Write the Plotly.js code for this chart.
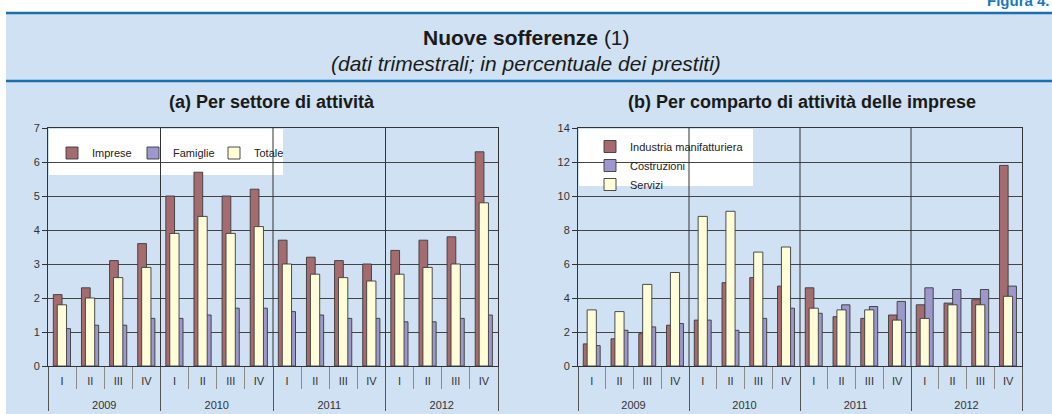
<!DOCTYPE html>
<html>
<head>
<meta charset="utf-8">
<script src="https://cdn.plot.ly/plotly-3.0.1.min.js"></script>
<style>
  body { margin: 0; padding: 0; background: #fff; }
  #chart { width: 1052px; height: 414px; }
</style>
</head>
<body>
<div id="chart"></div>
<script>
  // categories
  const YEARS = ['2009', '2010', '2011', '2012'];
  const QUARTERS = ['I', 'II', 'III', 'IV'];

  // (a) per settore di attività
  const imprese  = [2.1, 2.3, 3.1, 3.6, 5.0, 5.7, 5.0, 5.2, 3.7, 3.2, 3.1, 3.0, 3.4, 3.7, 3.8, 6.3];
  const famiglie = [1.1, 1.2, 1.2, 1.4, 1.4, 1.5, 1.7, 1.7, 1.6, 1.5, 1.4, 1.4, 1.3, 1.3, 1.4, 1.5];
  const totale   = [1.8, 2.0, 2.6, 2.9, 3.9, 4.4, 3.9, 4.1, 3.0, 2.7, 2.6, 2.5, 2.7, 2.9, 3.0, 4.8];

  // (b) per comparto di attività delle imprese
  const industria   = [1.3, 1.6, 1.9, 2.4, 2.7, 4.9, 5.2, 4.7, 4.6, 2.9, 2.8, 3.0, 3.6, 3.7, 3.9, 11.8];
  const costruzioni = [1.2, 2.1, 2.3, 2.5, 2.7, 2.1, 2.8, 3.4, 3.1, 3.6, 3.5, 3.8, 4.6, 4.5, 4.5, 4.7];
  const servizi     = [3.3, 3.2, 4.8, 5.5, 8.8, 9.1, 6.7, 7.0, 3.4, 3.3, 3.3, 2.7, 2.8, 3.6, 3.6, 4.1];

  const MAROON = '#a56c70';
  const PURPLE = '#9c98cc';
  const CREAM = '#fffcd8';
  const BG = '#cfe1f2';
  const BLUE = '#1a6faf';

  // the year row sits one line below the quarter row
  let yearCat = [], quarterCat = [];
  YEARS.forEach(function (y) {
    QUARTERS.forEach(function (q) {
      yearCat.push('<br>' + y);
      quarterCat.push(q);
    });
  });
  const X = [yearCat, quarterCat];

  function bar(name, y, color, offset, width, xa, ya, legend) {
    return {
      type: 'bar', name: name, x: X, y: y,
      xaxis: xa, yaxis: ya, legend: legend,
      offset: offset, width: width,
      marker: { color: color, line: { color: '#3a3a3a', width: 0.9 } },
      hoverinfo: 'skip'
    };
  }

  const data = [
    bar('Imprese', imprese, MAROON, -0.31, 0.31, 'x', 'y', 'legend'),
    bar('Famiglie', famiglie, PURPLE, 0, 0.3, 'x', 'y', 'legend'),
    bar('Totale', totale, CREAM, -0.17, 0.33, 'x', 'y', 'legend'),
    bar('Industria manifatturiera', industria, MAROON, -0.31, 0.31, 'x2', 'y3', 'legend2'),
    bar('Costruzioni', costruzioni, PURPLE, 0, 0.3, 'x2', 'y3', 'legend2'),
    bar('Servizi', servizi, CREAM, -0.17, 0.33, 'x2', 'y3', 'legend2')
  ];

  const W = 1052, H = 414;
  function px(v) { return v / W; }
  function py(v) { return 1 - v / H; }

  const yDomain = [py(366), py(128)];
  const tickFont = { family: 'Liberation Sans, Arial, sans-serif', size: 11, color: '#333' };

  function xAxis(domain, anchor) {
    return {
      type: 'multicategory', domain: domain, anchor: anchor,
      showgrid: false, showline: true, linecolor: '#333', linewidth: 1, mirror: true,
      ticks: 'outside', tickson: 'boundaries', ticklen: 22, tickcolor: '#8a8a8a',
      ticklabelstandoff: 5,
      showdividers: true, dividercolor: '#555', dividerwidth: 1,
      tickfont: tickFont
    };
  }
  function yAxis(range, dtick, anchor) {
    return {
      range: range, dtick: dtick, domain: yDomain, anchor: anchor,
      showgrid: true, gridcolor: '#444', gridwidth: 1, zeroline: false,
      showline: true, linecolor: '#333', mirror: true,
      ticks: 'outside', ticklen: 5, tickcolor: '#333',
      tickfont: tickFont, fixedrange: true
    };
  }
  function yRight(range, dtick, over, anchor) {
    return {
      range: range, dtick: dtick, overlaying: over, side: 'right', anchor: anchor,
      showgrid: false, zeroline: false, showline: false,
      ticks: 'outside', ticklen: 5, tickcolor: '#333', tickfont: tickFont,
      ticklabelstandoff: 3
    };
  }

  // blue background
  let shapes = [
    { type: 'rect', xref: 'paper', yref: 'paper', x0: px(6), x1: 1, y0: 0, y1: py(14),
      fillcolor: BG, line: { width: 0 }, layer: 'below' }
  ];
  // vertical separators between years inside the plots
  [['x', 'y', 7], ['x2', 'y3', 14]].forEach(function (p) {
    [3.5, 7.5, 11.5].forEach(function (b) {
      shapes.push({ type: 'line', xref: p[0], yref: p[1], x0: b, x1: b, y0: 0, y1: p[2],
        line: { color: '#333', width: 1 }, layer: 'between' });
    });
  });
  // white legend boxes hiding the grid
  shapes.push({ type: 'rect', xref: 'paper', yref: 'paper', x0: px(49), x1: px(283), y0: py(175), y1: py(129),
    fillcolor: '#fff', line: { width: 0 }, layer: 'between' });
  shapes.push({ type: 'rect', xref: 'paper', yref: 'paper', x0: px(579), x1: px(753), y0: py(186), y1: py(129),
    fillcolor: '#fff', line: { width: 0 }, layer: 'between' });
  // blue rules
  shapes.push({ type: 'line', xref: 'paper', yref: 'paper', x0: px(6), x1: 1, y0: py(13), y1: py(13),
    line: { color: BLUE, width: 2.5 } });
  shapes.push({ type: 'line', xref: 'paper', yref: 'paper', x0: px(6), x1: 1, y0: py(81), y1: py(81),
    line: { color: BLUE, width: 2.5 } });

  const font = 'Liberation Sans, Arial, sans-serif';
  const annotations = [
    { text: '<b>Figura 4.</b>', xref: 'paper', yref: 'paper', x: 1, y: py(11), xanchor: 'right', yanchor: 'bottom',
      showarrow: false, font: { family: font, size: 15, color: '#1a78c0' } },
    { text: '<b>Nuove sofferenze</b> (1)', xref: 'paper', yref: 'paper', x: 0.5, y: py(38),
      xanchor: 'center', yanchor: 'middle', showarrow: false,
      font: { family: font, size: 21, color: '#1a1a1a' } },
    { text: '<i>(dati trimestrali; in percentuale dei prestiti)</i>', xref: 'paper', yref: 'paper', x: 0.5, y: py(63),
      xanchor: 'center', yanchor: 'middle', showarrow: false,
      font: { family: font, size: 21, color: '#1a1a1a' } },
    { text: '<b>(a) Per settore di attività</b>', xref: 'paper', yref: 'paper', x: px(272), y: py(102),
      xanchor: 'center', yanchor: 'middle', showarrow: false,
      font: { family: font, size: 18, color: '#1a1a1a' } },
    { text: '<b>(b) Per comparto di attività delle imprese</b>', xref: 'paper', yref: 'paper', x: px(802), y: py(102),
      xanchor: 'center', yanchor: 'middle', showarrow: false,
      font: { family: font, size: 18, color: '#1a1a1a' } }
  ];

  const legendFont = { family: font, size: 11, color: '#222' };
  const layout = {
    width: W, height: H,
    margin: { l: 0, r: 0, t: 0, b: 0 },
    paper_bgcolor: '#fff', plot_bgcolor: '#fff',
    barmode: 'overlay',
    showlegend: true,
    xaxis: xAxis([px(48), px(498)], 'y'),
    yaxis: yAxis([0, 7], 1, 'x'),
    yaxis2: yRight([0, 7], 1, 'y', 'x'),
    xaxis2: xAxis([px(578), px(1022)], 'y3'),
    yaxis3: yAxis([0, 14], 2, 'x2'),
    yaxis4: yRight([0, 14], 2, 'y3', 'x2'),
    legend: {
      orientation: 'h', x: px(52), y: py(153), xanchor: 'left', yanchor: 'middle',
      bgcolor: 'rgba(0,0,0,0)', font: legendFont, entrywidth: 36, itemclick: false
    },
    legend2: {
      orientation: 'v', x: px(590), y: py(132), xanchor: 'left', yanchor: 'top',
      bgcolor: 'rgba(0,0,0,0)', font: legendFont, itemclick: false, tracegroupgap: 0
    },
    shapes: shapes,
    annotations: annotations
  };

  Plotly.newPlot('chart', data, layout, { staticPlot: true });
</script>
</body>
</html>
